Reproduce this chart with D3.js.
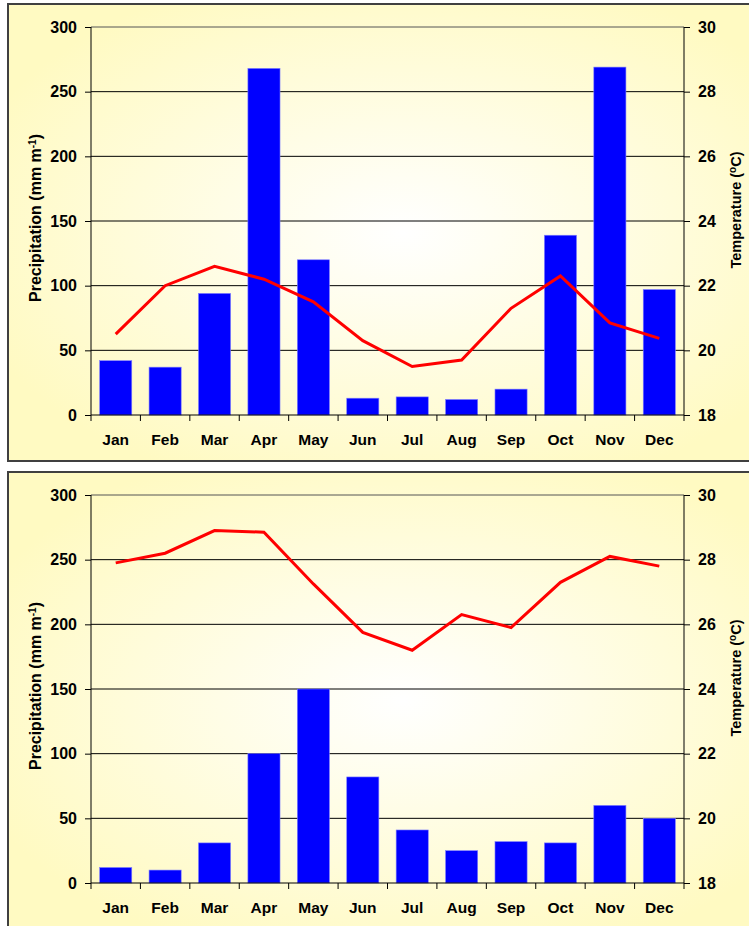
<!DOCTYPE html>
<html>
<head>
<meta charset="utf-8">
<script src="https://cdn.jsdelivr.net/npm/d3@7"></script>
<style>
  body { margin: 0; background: #fff; }
  text { font-family: "Liberation Sans", Arial, sans-serif; font-weight: bold; fill: #000; }
</style>
</head>
<body>
<div id="chart"></div>
<script>
// data
const months = ["Jan","Feb","Mar","Apr","May","Jun","Jul","Aug","Sep","Oct","Nov","Dec"];
const precipTop = [42, 37, 94, 268, 120, 13, 14, 12, 20, 139, 269, 97];
const tempTop = [20.5, 22.0, 22.6, 22.2, 21.5, 20.3, 19.5, 19.7, 21.3, 22.3, 20.85, 20.37];
const precipBottom = [12, 10, 31, 100, 150, 82, 41, 25, 32, 31, 60, 50];
const tempBottom = [27.9, 28.2, 28.9, 28.85, 27.25, 25.75, 25.2, 26.3, 25.9, 27.3, 28.1, 27.8];
const precipTicks = [0, 50, 100, 150, 200, 250, 300];
const tempTicks = [18, 20, 22, 24, 26, 28, 30];

const svg = d3.select("#chart")
  .append("svg")
    .attr("width", 749)
    .attr("height", 926);

// yellow-to-white background like the spreadsheet chart
const defs = svg.append("defs");
const grad = defs.append("radialGradient")
    .attr("id", "bg")
    .attr("cx", "52%").attr("cy", "50%").attr("r", "60%");
grad.append("stop").attr("offset", "0%").attr("stop-color", "#ffffff");
grad.append("stop").attr("offset", "100%").attr("stop-color", "#fffac2");

function drawPanel(top, precip, temp) {
  const box = {x: 8, y: top, w: 760, h: 457};
  const margin = {top: 23, left: 83};
  const width = 593, height = 388;

  svg.append("rect")
    .attr("x", box.x).attr("y", box.y)
    .attr("width", box.w).attr("height", box.h)
    .attr("fill", "url(#bg)")
    .attr("stroke", "#404040")
    .attr("stroke-width", 2);

  const g = svg.append("g")
    .attr("transform", `translate(${box.x + margin.left},${box.y + margin.top})`);

  const x = d3.scaleBand()
    .domain(months)
    .range([0, width])
    .paddingInner(0.35)
    .paddingOuter(0.175);

  const xTicks = d3.scaleLinear().domain([0, 12]).range([0, width]);

  const y = d3.scaleLinear().domain([0, 300]).range([height, 0]);
  const y2 = d3.scaleLinear().domain([18, 30]).range([height, 0]);

  // gridlines
  g.append("g")
    .selectAll("line")
    .data(precipTicks.slice(1))
    .join("line")
      .attr("x1", 0).attr("x2", width)
      .attr("y1", d => y(d)).attr("y2", d => y(d))
      .attr("stroke", d => d === 300 ? "#555" : "#000")
      .attr("stroke-width", 1);

  // bars
  g.append("g")
    .selectAll("rect")
    .data(precip)
    .join("rect")
      .attr("x", (d, i) => x(months[i]))
      .attr("y", d => y(d))
      .attr("width", x.bandwidth())
      .attr("height", d => height - y(d))
      .attr("fill", "#0000ff")
      .attr("stroke", "#7f7fff")
      .attr("stroke-width", 0.6);

  // temperature line
  const line = d3.line()
    .x((d, i) => x(months[i]) + x.bandwidth() / 2)
    .y(d => y2(d));
  g.append("path")
    .datum(temp)
    .attr("d", line)
    .attr("fill", "none")
    .attr("stroke", "#ff0000")
    .attr("stroke-width", 3);

  // left axis
  const left = g.append("g")
    .call(d3.axisLeft(y).tickValues(precipTicks).tickSize(6).tickPadding(8));
  left.select(".domain").attr("stroke", "#000").attr("d", `M0,0V${height}`);
  left.selectAll("text").style("font-size", "16px");

  // right axis
  const right = g.append("g")
    .attr("transform", `translate(${width},0)`)
    .call(d3.axisRight(y2).tickValues(tempTicks).tickSize(6).tickPadding(8));
  right.select(".domain").attr("d", `M0,0V${height}`);
  right.selectAll("text").style("font-size", "16px");

  // bottom axis: ticks at band edges, labels in band centres
  const bottom = g.append("g")
    .attr("transform", `translate(0,${height})`);
  bottom.append("line")
    .attr("x1", 0).attr("x2", width)
    .attr("stroke", "#000");
  bottom.selectAll(".tk")
    .data(d3.range(13))
    .join("line")
      .attr("class", "tk")
      .attr("x1", d => xTicks(d)).attr("x2", d => xTicks(d))
      .attr("y1", 0).attr("y2", 6)
      .attr("stroke", "#000");
  bottom.selectAll("text")
    .data(months)
    .join("text")
      .attr("x", d => x(d) + x.bandwidth() / 2)
      .attr("y", 30)
      .attr("text-anchor", "middle")
      .style("font-size", "15.5px")
      .text(d => d);

  // axis titles
  const yl = g.append("text")
    .attr("transform", `translate(-50,${height / 2 - 3}) rotate(-90)`)
    .attr("text-anchor", "middle")
    .style("font-size", "16px");
  yl.append("tspan").text("Precipitation (mm m");
  yl.append("tspan").attr("baseline-shift", "super").style("font-size", "10px").text("-1");
  yl.append("tspan").text(")");

  const yr = g.append("text")
    .attr("transform", `translate(${width + 57},${height / 2 - 11}) rotate(-90)`)
    .attr("text-anchor", "middle")
    .style("font-size", "14.5px");
  yr.append("tspan").text("Temperature (");
  yr.append("tspan").attr("baseline-shift", "super").style("font-size", "10px").text("o");
  yr.append("tspan").text("C)");
}

drawPanel(4, precipTop, tempTop);
drawPanel(472, precipBottom, tempBottom);
</script>
</body>
</html>
